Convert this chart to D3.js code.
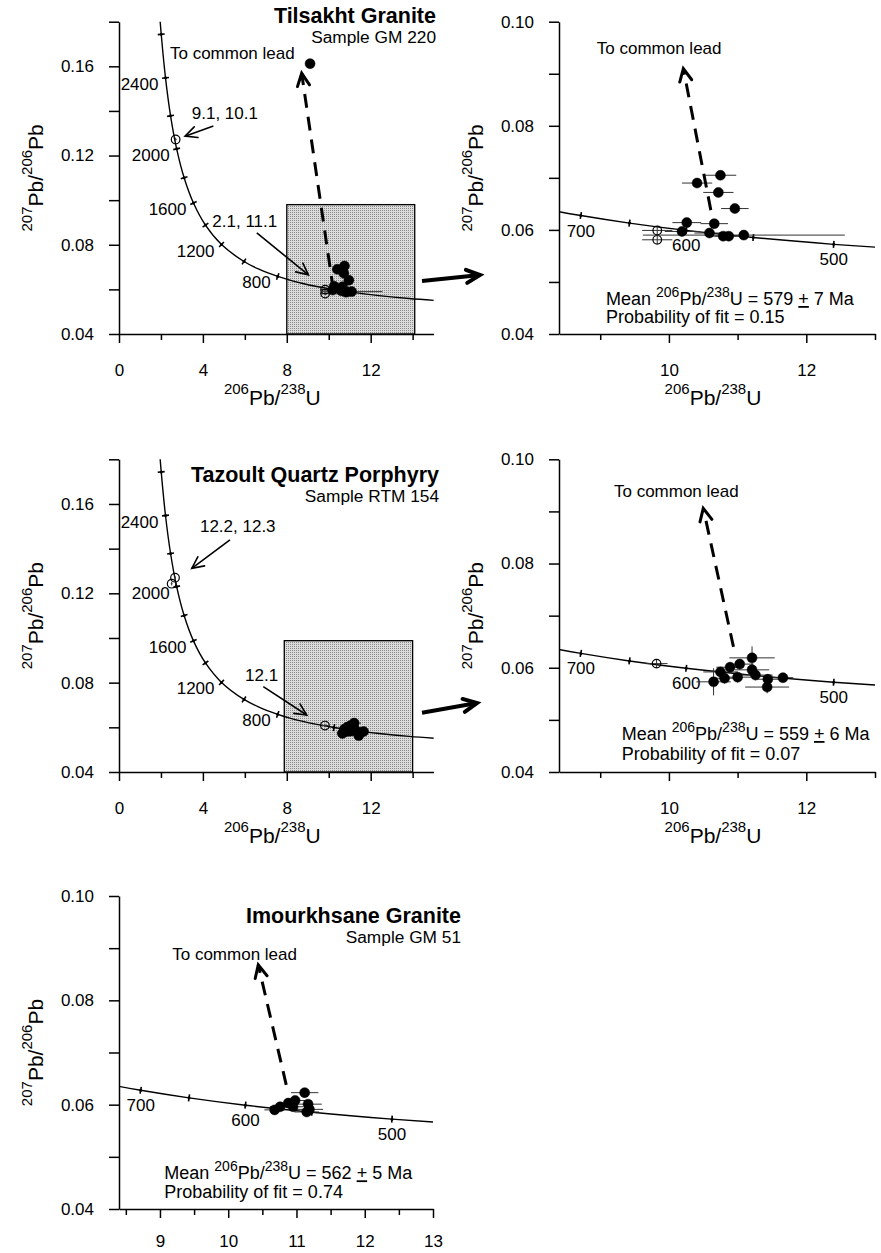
<!DOCTYPE html>
<html>
<head>
<meta charset="utf-8">
<script src="https://cdnjs.cloudflare.com/ajax/libs/d3/7.8.5/d3.min.js"></script>
<style>
  body { margin: 0; background: #fff; }
  svg text { font-family: "Liberation Sans", Arial, Helvetica, sans-serif; fill: #000; }
</style>
</head>
<body>
<div id="fig"></div>
<script>
// Tera-Wasserburg concordia (age in Ma)
const concAge = [400, 450, 500, 550, 600, 650, 700, 750, 800, 900, 1000, 1200, 1400, 1600, 1800, 2000, 2200, 2400, 2600, 2700];
const concX   = [15.621, 13.831, 12.399, 11.228, 10.252, 9.426, 8.718, 8.105, 7.568, 6.674, 5.959, 4.888, 4.123, 3.550, 3.105, 2.749, 2.459, 2.217, 2.013, 1.922];
const concY   = [0.05470, 0.05594, 0.05722, 0.05854, 0.05990, 0.06131, 0.06276, 0.06425, 0.06580, 0.06904, 0.07250, 0.08012, 0.08881, 0.09871, 0.11004, 0.12299, 0.13782, 0.15483, 0.17436, 0.18520];

// age marks on the curve
const overviewTickAges  = [600, 800, 1000, 1200, 1400, 1600, 1800, 2000, 2200, 2400, 2600];
const overviewLabelAges = [800, 1200, 1600, 2000, 2400];
const zoomTickAges  = [500, 550, 600, 650, 700];
const zoomLabelAges = [500, 600, 700];

// axis ticks and labels
const overviewXTicks  = [0, 2, 4, 6, 8, 10, 12, 14];
const overviewXLabels = ['0', '', '4', '', '8', '', '12', ''];
const overviewYTicks  = [0.04, 0.06, 0.08, 0.10, 0.12, 0.14, 0.16, 0.18];
const overviewYLabels = ['0.04', '', '0.08', '', '0.12', '', '0.16', ''];
const zoomXTicks  = [9, 10, 11, 12, 13];
const zoomXLabels = ['', '10', '', '12', ''];
const zoomYTicks  = [0.04, 0.05, 0.06, 0.07, 0.08, 0.09, 0.10];
const zoomYLabels = ['0.04', '', '0.06', '', '0.08', '', '0.10'];
const bottomXTicks  = [8.5, 9, 9.5, 10, 10.5, 11, 11.5, 12, 12.5, 13];
const bottomXLabels = ['', '9', '', '10', '', '11', '', '12', '', '13'];

// Tilsakht Granite, sample GM 220 (filled = used analyses)
const tilX  = [10.41, 10.75, 10.72, 10.96, 10.26, 10.66, 10.19, 10.59, 10.79, 10.87, 11.09, 9.11];
const tilY  = [0.0690, 0.0705, 0.0672, 0.0641, 0.0614, 0.0612, 0.0597, 0.0594, 0.0588, 0.0588, 0.0590, 0.1612];
const tilSX = [0.22, 0.23, 0.22, 0.20, 0.21, 0.20, 0.25, 0.22, 0.20, 0.20, 1.47, 0.05];
const tilSY = [0.0008, 0.0008, 0.0008, 0.0008, 0.0008, 0.0008, 0.0008, 0.0008, 0.0008, 0.0008, 0.0008, 0.001];
// open circles: spots 2.1, 11.1 and 9.1, 10.1
const tilOpenX  = [9.83, 9.83, 2.70];
const tilOpenY  = [0.0599, 0.0581, 0.1272];
const tilOpenSX = [0.22, 0.22, 0.05];
const tilOpenSY = [0.0008, 0.0008, 0.0008];

// Tazoult Quartz Porphyry, sample RTM 154
const tazX  = [11.21, 11.03, 10.89, 11.21, 10.75, 11.26, 11.00, 10.81, 11.44, 11.66, 10.65, 11.43];
const tazY  = [0.0619, 0.0607, 0.0601, 0.0596, 0.0592, 0.0586, 0.0582, 0.0580, 0.0578, 0.0581, 0.0573, 0.0563];
const tazSX = [0.33, 0.20, 0.20, 0.25, 0.25, 0.25, 0.20, 0.20, 0.20, 0.15, 0.25, 0.32];
const tazSY = [0.0022, 0.0010, 0.0010, 0.0010, 0.0010, 0.0010, 0.0010, 0.0010, 0.0010, 0.0008, 0.0026, 0.0012];
// open circles: spot 12.1 and 12.2, 12.3
const tazOpenX  = [9.82, 2.67, 2.51];
const tazOpenY  = [0.0608, 0.1270, 0.1243];
const tazOpenSX = [0.16, 0.04, 0.04];
const tazOpenSY = [0.0008, 0.0008, 0.0008];

// Imourkhsane Granite, sample GM 51
const imoX  = [11.12, 10.98, 10.88, 10.76, 10.68, 10.95, 11.17, 11.19, 11.15];
const imoY  = [0.0623, 0.0608, 0.0603, 0.0596, 0.0590, 0.0596, 0.0601, 0.0591, 0.0586];
const imoSX = [0.20, 0.15, 0.15, 0.15, 0.15, 0.15, 0.20, 0.20, 0.18];
const imoSY = [0.0008, 0.0008, 0.0008, 0.0008, 0.0008, 0.0008, 0.0008, 0.0008, 0.0008];

const W = 881, H = 1253;
const FONT = 17;

const svg = d3.select('#fig').append('svg')
    .attr('width', W)
    .attr('height', H);

const defs = svg.append('defs');

// stippled grey fill of the zoom window
const pat = defs.append('pattern')
    .attr('id', 'stipple')
    .attr('patternUnits', 'userSpaceOnUse')
    .attr('width', 2).attr('height', 2);
pat.append('rect').attr('width', 2).attr('height', 2).attr('fill', '#dcdcdc');
pat.append('rect').attr('width', 1).attr('height', 1).attr('fill', '#8a8a8a');

const conc = concAge.map((a, i) => ({age: a, x: concX[i], y: concY[i]}));

// text with superscripts; parts = [string, 'sup' | 'u' | '']
function richText(sel, parts, big, small, rise) {
    let up = false;
    parts.forEach(([s, kind]) => {
        const sup = kind === 'sup';
        const t = sel.append('tspan').text(s).attr('font-size', sup ? small : big);
        if (sup !== up) t.attr('dy', sup ? -rise : rise);
        if (kind === 'u') t.style('text-decoration', 'underline');
        up = sup;
    });
}

function arrowHead(g, x1, y1, x2, y2, len, spread, width) {
    const ang = Math.atan2(y2 - y1, x2 - x1);
    const pts = [
        [x2 - len * Math.cos(ang - spread), y2 - len * Math.sin(ang - spread)],
        [x2, y2],
        [x2 - len * Math.cos(ang + spread), y2 - len * Math.sin(ang + spread)]
    ];
    g.append('path')
        .attr('d', d3.line()(pts))
        .attr('fill', 'none')
        .attr('stroke', '#000')
        .attr('stroke-width', width)
        .attr('stroke-linecap', 'round');
}

function arrow(g, x1, y1, x2, y2, opts) {
    g.append('line')
        .attr('x1', x1).attr('y1', y1).attr('x2', x2).attr('y2', y2)
        .attr('stroke', '#000')
        .attr('stroke-width', opts.width)
        .attr('stroke-dasharray', opts.dash || null);
    arrowHead(g, x1, y1, x2, y2, opts.head, 0.45, opts.width);
}

function drawPanel(p) {
    const x = d3.scaleLinear().domain(p.xDomain).range([p.left, p.left + p.width]);
    const y = d3.scaleLinear().domain(p.yDomain).range([p.top + p.height, p.top]);
    const g = svg.append('g');

    const clipId = 'clip' + p.id;
    defs.append('clipPath').attr('id', clipId)
        .append('rect')
        .attr('x', p.left).attr('y', p.top)
        .attr('width', p.width).attr('height', p.height);

    // zoom window
    if (p.box) {
        g.append('rect')
            .attr('x', x(p.box[0])).attr('y', y(p.box[3]))
            .attr('width', x(p.box[1]) - x(p.box[0]))
            .attr('height', y(p.box[2]) - y(p.box[3]))
            .attr('fill', 'url(#stipple)')
            .attr('stroke', '#000')
            .attr('stroke-width', 1.3);
    }

    // concordia
    const line = d3.line()
        .x(d => x(d.x)).y(d => y(d.y))
        .curve(d3.curveCatmullRom.alpha(0.5));
    g.append('path')
        .datum(conc)
        .attr('clip-path', `url(#${clipId})`)
        .attr('d', line)
        .attr('fill', 'none')
        .attr('stroke', '#000')
        .attr('stroke-width', 1.4);

    // age marks across the curve
    p.tickAges.forEach(age => {
        const i = concAge.indexOf(age);
        const a = conc[Math.max(i - 1, 0)], b = conc[Math.min(i + 1, conc.length - 1)];
        const dx = x(b.x) - x(a.x), dy = y(b.y) - y(a.y);
        const len = Math.hypot(dx, dy);
        const nx = -dy / len, ny = dx / len;
        const cx = x(conc[i].x), cy = y(conc[i].y);
        if (conc[i].x < p.xDomain[0] || conc[i].x > p.xDomain[1]) return;
        g.append('line')
            .attr('x1', cx - nx * 3.5).attr('y1', cy - ny * 3.5)
            .attr('x2', cx + nx * 3.5).attr('y2', cy + ny * 3.5)
            .attr('stroke', '#000').attr('stroke-width', 1.6);
        g.append('circle').attr('cx', cx).attr('cy', cy).attr('r', 1.5).attr('fill', '#000');
    });

    p.labelAges.forEach(age => {
        const i = concAge.indexOf(age);
        g.append('text')
            .attr('x', x(conc[i].x) + p.ageDx)
            .attr('y', y(conc[i].y) + p.ageDy)
            .attr('text-anchor', p.ageAnchor)
            .attr('font-size', FONT)
            .text(age);
    });

    // points with error bars
    const pg = g.append('g').attr('clip-path', `url(#${clipId})`);
    function points(xs, ys, sxs, sys, filled) {
        const d = xs.map((v, i) => ({x: v, y: ys[i], sx: sxs[i], sy: sys[i]}));
        pg.selectAll(null).data(d).enter().append('line')
            .attr('x1', e => x(e.x - e.sx)).attr('x2', e => x(e.x + e.sx))
            .attr('y1', e => y(e.y)).attr('y2', e => y(e.y))
            .attr('stroke', '#333').attr('stroke-width', 1);
        pg.selectAll(null).data(d).enter().append('line')
            .attr('x1', e => x(e.x)).attr('x2', e => x(e.x))
            .attr('y1', e => y(e.y - e.sy)).attr('y2', e => y(e.y + e.sy))
            .attr('stroke', '#333').attr('stroke-width', 1);
        pg.selectAll(null).data(d).enter().append('circle')
            .attr('cx', e => x(e.x)).attr('cy', e => y(e.y))
            .attr('r', filled ? 5 : 4.3)
            .attr('fill', filled ? '#000' : 'none')
            .attr('stroke', '#000')
            .attr('stroke-width', filled ? 0.5 : 1.2);
    }
    points(p.openX, p.openY, p.openSX, p.openSY, false);
    points(p.dataX, p.dataY, p.dataSX, p.dataSY, true);

    // dashed trend to common lead
    if (p.lead) {
        const L = p.lead;
        arrow(g, x(L[0]), y(L[1]), x(L[2]), y(L[3]), {width: 3, dash: '14,9', head: 14});
        g.append('text')
            .attr('x', x(p.leadText[0])).attr('y', y(p.leadText[1]))
            .attr('font-size', FONT)
            .text('To common lead');
    }

    // spot annotations
    (p.notes || []).forEach(n => {
        g.append('text')
            .attr('x', x(n.tx)).attr('y', y(n.ty))
            .attr('font-size', FONT)
            .text(n.text);
        arrow(g, x(n.x1), y(n.y1), x(n.x2), y(n.y2), {width: 1.6, head: 13});
    });

    // axes
    const xAxis = d3.axisBottom(x)
        .tickValues(p.xTicks)
        .tickFormat(d => p.xLabels[p.xTicks.indexOf(d)])
        .tickSize(9).tickSizeOuter(0).tickPadding(p.xPad || 21);
    const yAxis = d3.axisLeft(y)
        .tickValues(p.yTicks)
        .tickFormat(d => p.yLabels[p.yTicks.indexOf(d)])
        .tickSize(10).tickSizeOuter(0).tickPadding(15);

    const gx = g.append('g')
        .attr('transform', `translate(0,${p.top + p.height})`)
        .call(xAxis);
    const gy = g.append('g')
        .attr('transform', `translate(${p.left},0)`)
        .call(yAxis);
    [gx, gy].forEach(a => {
        a.select('.domain').attr('stroke-width', 1.5);
        a.selectAll('.tick line').attr('stroke-width', 1.5);
        a.selectAll('.tick text')
            .attr('font-size', FONT)
            .attr('font-family', '"Liberation Sans", Arial, sans-serif');
    });
    gx.selectAll('.tick line')
        .filter(d => p.xLabels[p.xTicks.indexOf(d)] === '')
        .attr('y2', 6);

    // axis titles
    const yt = svg.append('text')
        .attr('transform', `translate(${p.left - 76},${p.top + p.height / 2}) rotate(-90)`)
        .attr('text-anchor', 'middle');
    richText(yt, [['207', 'sup'], ['Pb/', ''], ['206', 'sup'], ['Pb', '']], 21, 15, 11);

    if (p.xTitle) {
        const xt = svg.append('text')
            .attr('x', p.left + p.width / 2 - 4)
            .attr('y', p.top + p.height + 71)
            .attr('text-anchor', 'middle');
        richText(xt, [['206', 'sup'], ['Pb/', ''], ['238', 'sup'], ['U', '']], 21, 15, 11);
    }

    // sample title
    if (p.title) {
        svg.append('text')
            .attr('x', p.title.x).attr('y', p.title.y)
            .attr('text-anchor', 'end')
            .attr('font-size', 21.5).attr('font-weight', 'bold')
            .text(p.title.name);
        svg.append('text')
            .attr('x', p.title.x).attr('y', p.title.y + 20)
            .attr('text-anchor', 'end')
            .attr('font-size', 17.3)
            .text(p.title.sample);
    }

    // weighted mean
    if (p.mean) {
        const bx = p.left + p.mean.dx, by = p.top + p.height;
        const t1 = svg.append('text').attr('x', bx).attr('y', by - p.mean.dy1);
        richText(t1, [['Mean ', ''], ['206', 'sup'], ['Pb/', ''], ['238', 'sup'],
                      ['U = ' + p.mean.age + ' ', ''], ['+', 'u'], [' ' + p.mean.err + ' Ma', '']], 18, 14, 8);
        svg.append('text').attr('x', bx).attr('y', by - p.mean.dy2)
            .attr('font-size', 18)
            .text('Probability of fit = ' + p.mean.prob);
    }

    return {x, y};
}

const overview = {
    xDomain: [0, 15], yDomain: [0.04, 0.18],
    xTicks: overviewXTicks, xLabels: overviewXLabels,
    yTicks: overviewYTicks, yLabels: overviewYLabels,
    tickAges: overviewTickAges, labelAges: overviewLabelAges,
    ageDx: -7, ageDy: 12, ageAnchor: 'end', xTitle: true
};
const zoom = {
    xDomain: [8.4, 13], yDomain: [0.04, 0.10],
    xTicks: zoomXTicks, xLabels: zoomXLabels,
    yTicks: zoomYTicks, yLabels: zoomYLabels,
    tickAges: zoomTickAges, labelAges: zoomLabelAges,
    ageDx: 0, ageDy: 21, ageAnchor: 'middle', xTitle: true
};

const tilData = {dataX: tilX, dataY: tilY, dataSX: tilSX, dataSY: tilSY,
                 openX: tilOpenX, openY: tilOpenY, openSX: tilOpenSX, openSY: tilOpenSY};
const tazData = {dataX: tazX, dataY: tazY, dataSX: tazSX, dataSY: tazSY,
                 openX: tazOpenX, openY: tazOpenY, openSX: tazOpenSX, openSY: tazOpenSY};
const imoData = {dataX: imoX, dataY: imoY, dataSX: imoSX, dataSY: imoSY,
                 openX: [], openY: [], openSX: [], openSY: []};

// Tilsakht: overview + zoom
drawPanel(Object.assign({}, overview, tilData, {
    id: 1, left: 119, top: 21.7, width: 314.6, height: 312.3,
    box: [8.0, 14.1, 0.04, 0.098],
    lead: [10.22, 0.0598, 8.71, 0.1569], leadText: [2.43, 0.1631],
    notes: [
        {text: '9.1, 10.1', tx: 3.47, ty: 0.1362, x1: 4.50, y1: 0.1332, x2: 3.15, y2: 0.1287},
        {text: '2.1, 11.1', tx: 4.45, ty: 0.0878, x1: 6.57, y1: 0.0853, x2: 9.03, y2: 0.0665}
    ],
    title: {x: 436, y: 22.7, name: 'Tilsakht Granite', sample: 'Sample GM 220'}
}));
drawPanel(Object.assign({}, zoom, tilData, {
    id: 2, left: 559, top: 21.7, width: 316, height: 312.3,
    lead: [10.61, 0.0638, 10.21, 0.0910], leadText: [8.95, 0.0937],
    mean: {dx: 47, dy1: 29, dy2: 10.7, age: 579, err: 7, prob: '0.15'}
}));

// Tazoult: overview + zoom
drawPanel(Object.assign({}, overview, tazData, {
    id: 3, left: 119, top: 459.3, width: 314.6, height: 312.7,
    box: [7.88, 14.0, 0.04, 0.0988],
    notes: [
        {text: '12.2, 12.3', tx: 3.86, ty: 0.1476, x1: 5.29, y1: 0.1439, x2: 3.47, y2: 0.1312},
        {text: '12.1', tx: 6.01, ty: 0.0809, x1: 6.88, y1: 0.0782, x2: 8.95, y2: 0.0655}
    ],
    title: {x: 439, y: 481.7, name: 'Tazoult Quartz Porphyry', sample: 'Sample RTM 154'}
}));
drawPanel(Object.assign({}, zoom, tazData, {
    id: 4, left: 559, top: 459.3, width: 316, height: 312.7,
    lead: [10.94, 0.0640, 10.50, 0.0906], leadText: [9.20, 0.0928],
    mean: {dx: 62.7, dy1: 32, dy2: 12, age: 559, err: 6, prob: '0.07'}
}));

// Imourkhsane: zoom only
drawPanel(Object.assign({}, zoom, imoData, {
    id: 5, left: 119, top: 896, width: 314, height: 313,
    xTicks: bottomXTicks, xLabels: bottomXLabels, xTitle: false, xPad: 17,
    lead: [10.85, 0.0638, 10.44, 0.0868], leadText: [9.18, 0.0877],
    mean: {dx: 45.3, dy1: 29.7, dy2: 10.7, age: 562, err: 5, prob: '0.74'},
    title: {x: 461, y: 923.3, name: 'Imourkhsane Granite', sample: 'Sample GM 51'}
}));

// links from the zoom window to the enlarged plot
const links = svg.append('g');
arrow(links, 422, 281, 480, 275, {width: 4, head: 15});
arrow(links, 422, 712.7, 477, 703, {width: 4, head: 15});
</script>
</body>
</html>
